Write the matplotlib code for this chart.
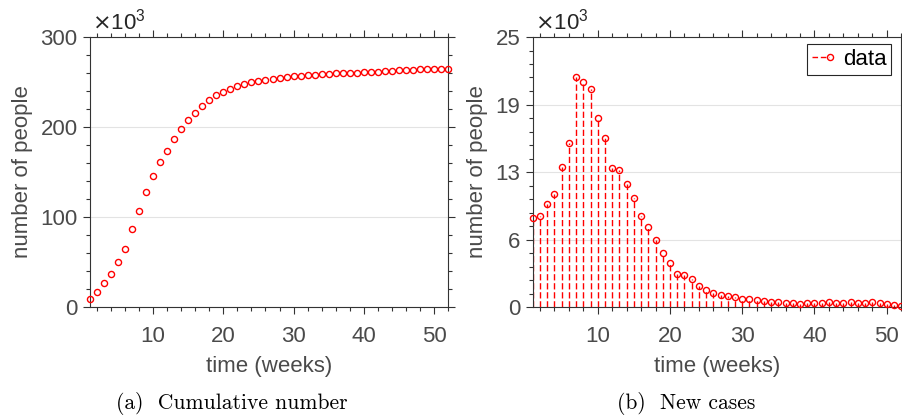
import matplotlib
matplotlib.use("Agg")
import matplotlib.pyplot as plt
from matplotlib.lines import Line2D
from matplotlib.legend_handler import HandlerBase
from matplotlib.ticker import FixedLocator, MultipleLocator

# ---- data (thousands of people) ----
weeks = list(range(1, 53))
cumulative = [8.6, 16.8, 26.2, 36.6, 49.7, 65.0, 86.2, 107.2, 127.5, 145.3,
              160.9, 173.6, 186.3, 197.8, 207.8, 216.1, 223.5, 230.2, 235.1, 239.1,
              242.1, 245.1, 247.4, 249.6, 251.1, 252.5, 253.6, 254.7, 255.5, 256.3,
              257.0, 257.6, 258.2, 258.7, 259.1, 259.5, 259.9, 260.2, 260.5, 260.8,
              261.2, 261.6, 262.0, 262.4, 262.8, 263.2, 263.6, 263.9, 264.1, 264.2,
              264.3, 264.4]
new_cases = [8.26, 8.41, 9.55, 10.48, 12.99, 15.18, 21.3, 20.87, 20.17, 17.53,
             15.68, 12.87, 12.71, 11.35, 10.08, 8.44, 7.42, 6.19, 5.0, 4.1,
             3.05, 2.97, 2.55, 1.92, 1.55, 1.30, 1.15, 1.02, 0.93, 0.76,
             0.74, 0.68, 0.58, 0.48, 0.45, 0.40, 0.40, 0.32, 0.34, 0.35,
             0.37, 0.43, 0.38, 0.40, 0.42, 0.38, 0.41, 0.43, 0.38, 0.28,
             0.19, 0.08]
left_yticks = [0, 100, 200, 300]
left_yticklabels = ["0", "100", "200", "300"]
right_yticks = [0, 6.25, 12.5, 18.75, 25]
right_yticklabels = ["0", "6", "13", "19", "25"]
xticks = [10, 20, 30, 40, 50]
xlabel = "time (weeks)"
ylabel = "number of people"
captions = ["(a)  Cumulative number", "(b)  New cases"]
legend_label = "data"

plt.rcParams['font.family'] = ['Liberation Sans', 'DejaVu Sans']
TXT = '#4a4a4a'
AX = '#333333'
FS = 16

W, H = 902, 415
fig = plt.figure(figsize=(W / 100, H / 100), dpi=100)

ax1 = fig.add_axes([90 / W, (H - 307) / H, 358 / W, 270 / H])
ax2 = fig.add_axes([532.7 / W, (H - 307) / H, 368.5 / W, 270 / H])


def style(ax, ylim, yticks, ylabels, yminor):
    ax.set_xlim(1, 52)
    ax.set_ylim(*ylim)
    ax.xaxis.set_major_locator(FixedLocator(xticks))
    ax.xaxis.set_minor_locator(MultipleLocator(2))
    ax.set_yticks(yticks)
    ax.set_yticklabels(ylabels)
    ax.yaxis.set_minor_locator(MultipleLocator(yminor))
    ax.tick_params(which='both', direction='out', top=True, right=True,
                   color=AX, labelcolor=TXT, labelsize=FS, width=0.8)
    ax.tick_params(which='major', length=5)
    ax.tick_params(which='minor', length=3)
    ax.tick_params(axis='x', which='major', pad=8.5)
    ax.tick_params(axis='y', which='major', pad=4)
    for s in ax.spines.values():
        s.set_color(AX)
        s.set_linewidth(0.8)
    ax.set_axisbelow(True)
    ax.yaxis.grid(True, which='major', color='#e3e3e3', linewidth=0.8)
    ax.set_xlabel(xlabel, fontsize=FS, color=TXT, labelpad=7)
    ax.set_ylabel(ylabel, fontsize=FS, color=TXT, labelpad=5)
    ax.text(0.005, 1.01, r'$\times\mathregular{10^{3}}$', transform=ax.transAxes,
            fontsize=FS, color='#262626', ha='left', va='bottom')


# left: cumulative
ax1.plot(weeks, cumulative, linestyle='none', marker='o', markersize=4.4,
         markerfacecolor='none', markeredgecolor='red', markeredgewidth=1.0,
         clip_on=False, zorder=3)
style(ax1, (0, 300), left_yticks, left_yticklabels, 20)

# right: new cases (stem)
mk, stems, base = ax2.stem(weeks, new_cases, linefmt='r--', markerfmt='ro', basefmt=' ')
mk.set_markerfacecolor('none')
mk.set_markeredgecolor('red')
mk.set_markersize(4.4)
mk.set_markeredgewidth(1.0)
mk.set_clip_on(False)
mk.set_zorder(3)
stems.set_linewidth(1.0)
stems.set_color('red')
stems.set_linestyle((0, (4.5, 2)))
style(ax2, (0, 25), right_yticks, right_yticklabels, 1.25)


class StemHandler(HandlerBase):
    def create_artists(self, legend, orig_handle, xdescent, ydescent, width,
                       height, fontsize, trans):
        y = height / 2 - ydescent
        x0 = -xdescent
        ln = Line2D([x0, x0 + width * 0.8], [y, y], color='red', lw=1.0,
                    linestyle=(0, (4, 2)))
        m = Line2D([x0 + width * 0.85], [y], marker='o', markersize=4.4,
                   markerfacecolor='none', markeredgecolor='red',
                   markeredgewidth=1.0, linestyle='none')
        ln.set_transform(trans)
        m.set_transform(trans)
        return [ln, m]


leg = ax2.legend([mk], [legend_label], handler_map={type(mk): StemHandler()},
                 loc='upper right', bbox_to_anchor=(1 - 10 / 368.5, 1 - 7 / 270),
                 borderaxespad=0, fontsize=FS, fancybox=False, framealpha=1,
                 edgecolor='#262626', handlelength=1.0, handletextpad=0.4,
                 borderpad=0.22)
leg.get_frame().set_linewidth(0.8)

fig.text(232 / W, 1 - 403 / H, captions[0], family='cmr10', fontsize=15.5,
         ha='center', va='center', color='black')
fig.text(686 / W, 1 - 403 / H, captions[1], family='cmr10', fontsize=15.5,
         ha='center', va='center', color='black')

fig.savefig('out.png', dpi=100)
